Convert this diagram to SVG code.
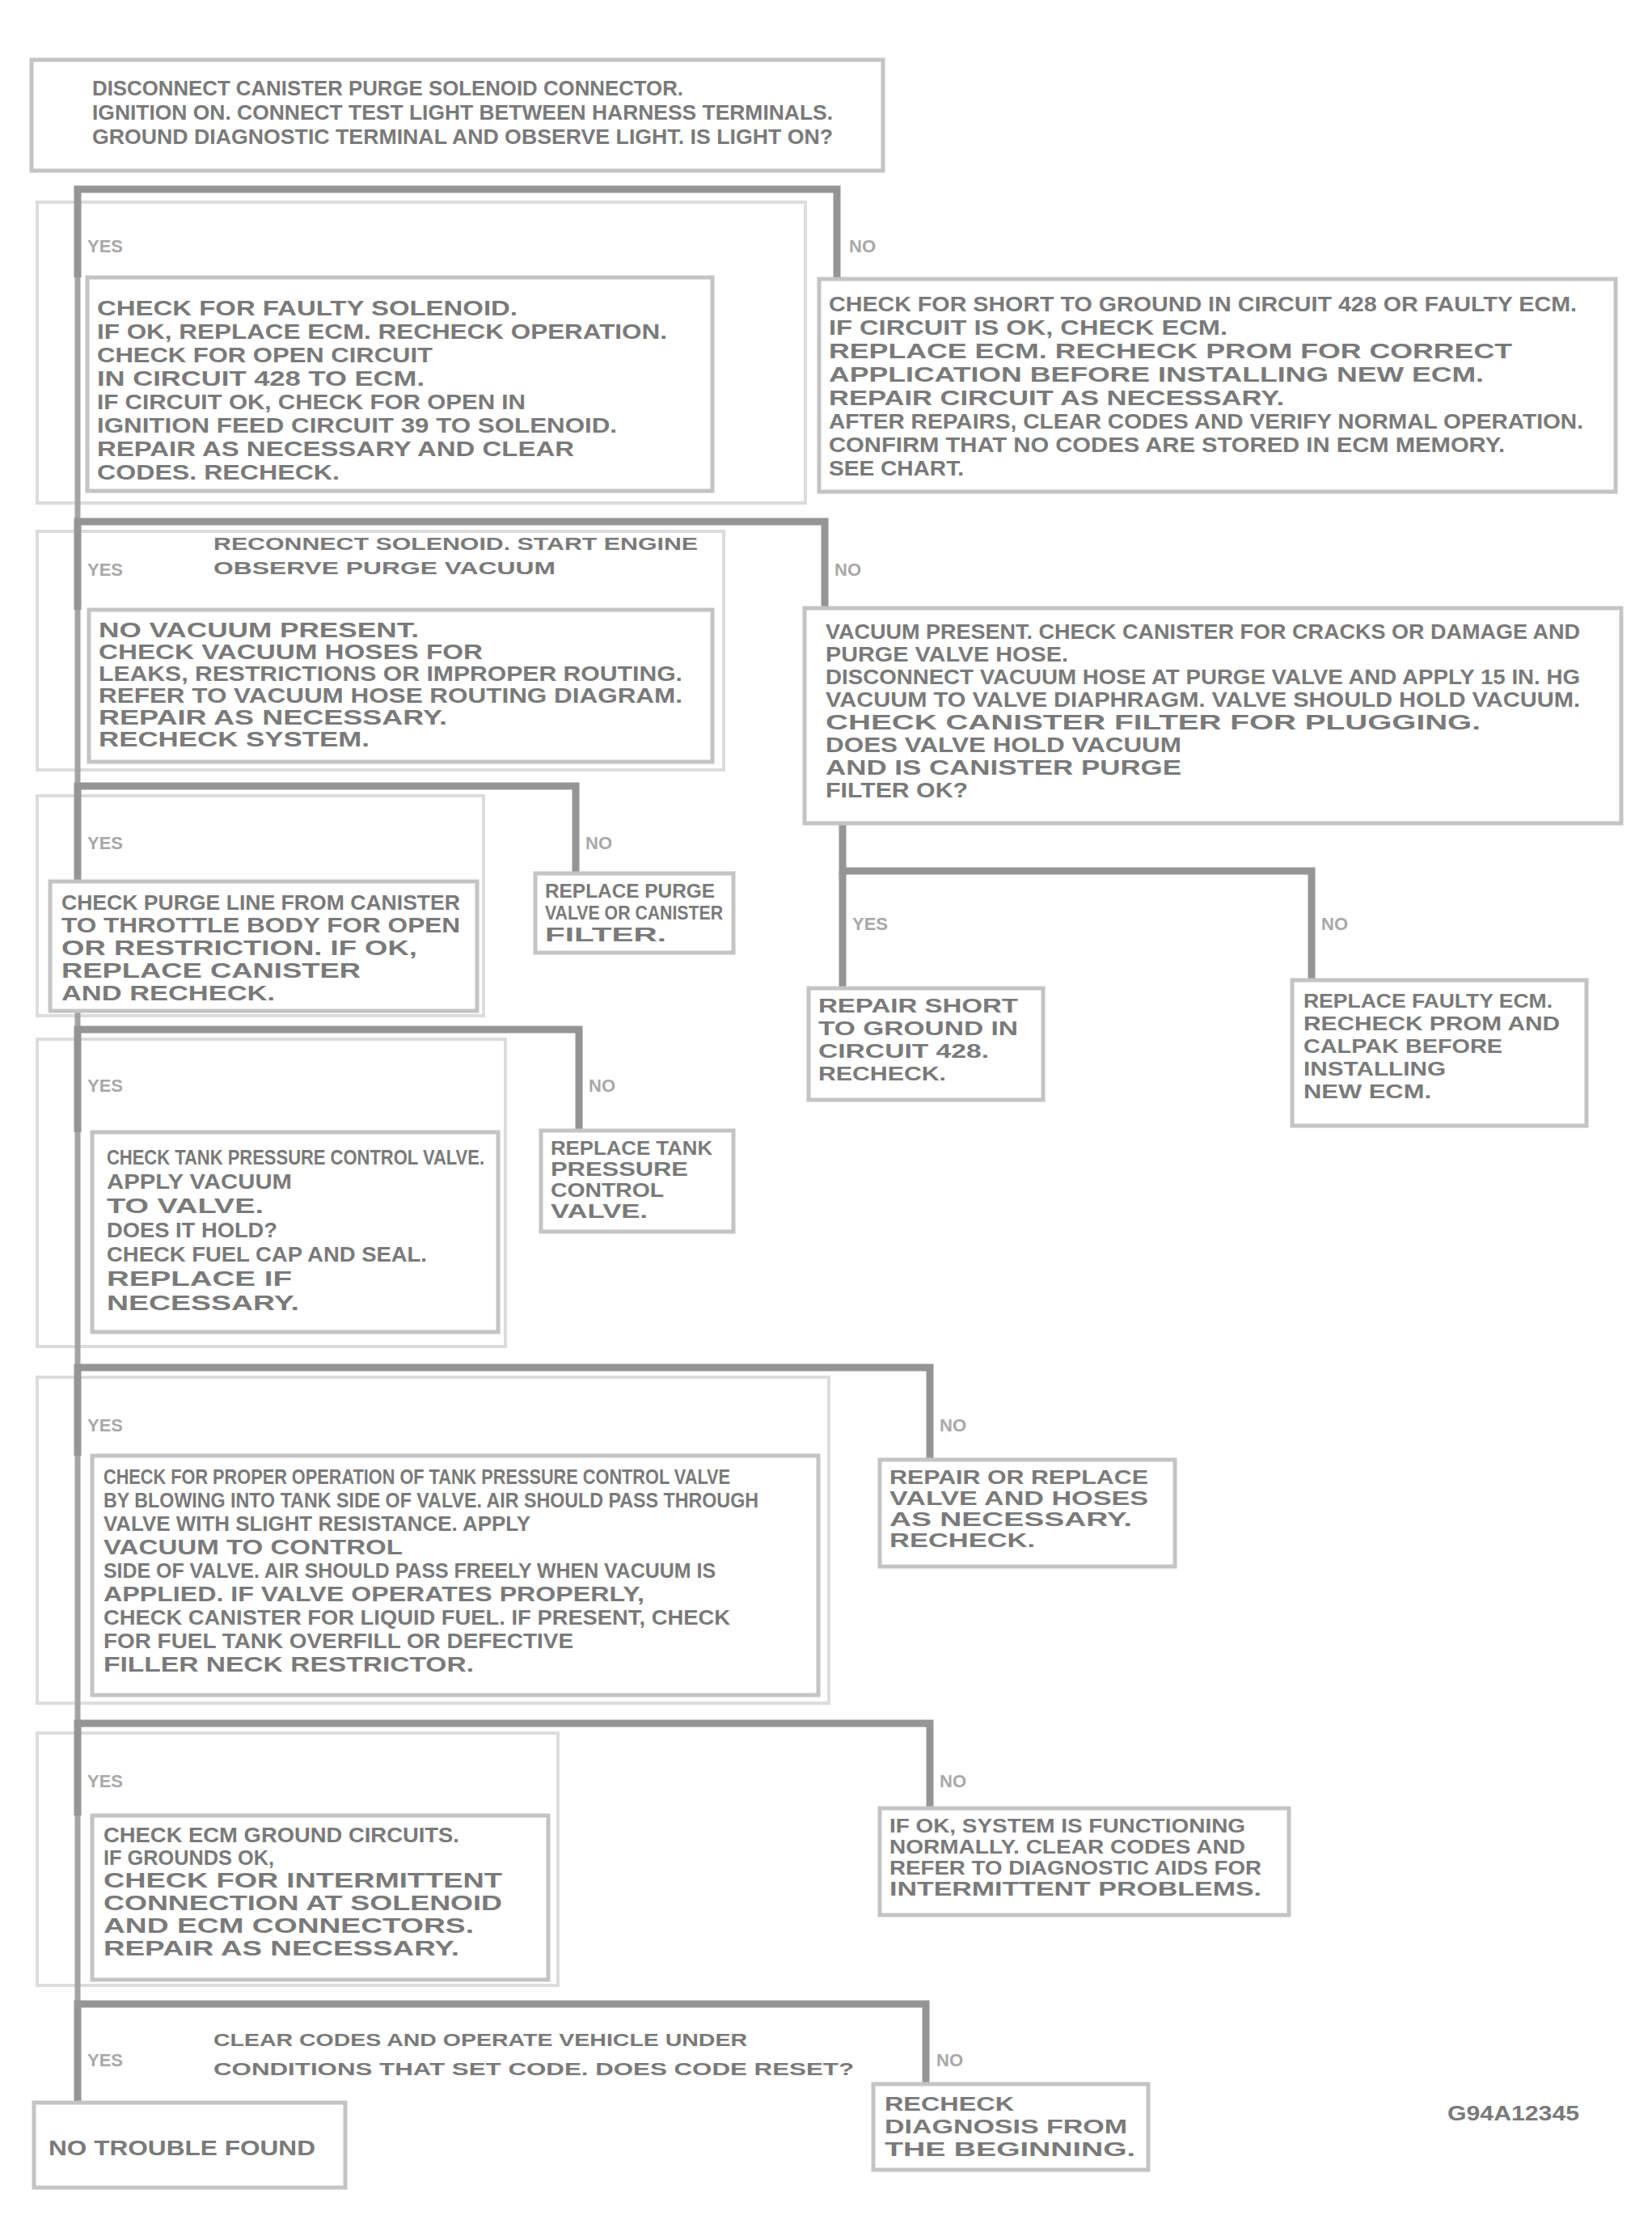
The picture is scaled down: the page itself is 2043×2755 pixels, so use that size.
<svg xmlns="http://www.w3.org/2000/svg" width="2043" height="2755" viewBox="0 0 2043 2755">
<style>
.bx{fill:#ffffff;stroke:#c4c4c4;stroke-width:5}
.fr{fill:none;stroke:#dcdcdc;stroke-width:4}
.cn{fill:none;stroke:#959595;stroke-width:9;stroke-linejoin:miter}
.sp{fill:none;stroke:#a3a3a3;stroke-width:7}
.t{font-family:"Liberation Sans",Arial,sans-serif;font-weight:bold;font-size:25px;fill:#7a7a7a}
.s{font-size:23px}
.q{font-size:22px}
.lb{font-family:"Liberation Sans",Arial,sans-serif;font-weight:bold;font-size:22px;fill:#a8a8a8}
</style>
<rect width="2043" height="2755" fill="#ffffff"/>

<g id="frames">
<rect class="fr" x="46" y="250" width="950" height="372"/>
<rect class="fr" x="46" y="657" width="849" height="295"/>
<rect class="fr" x="46" y="984" width="552" height="272"/>
<rect class="fr" x="46" y="1285" width="579" height="380"/>
<rect class="fr" x="46" y="1703" width="979" height="403"/>
<rect class="fr" x="46" y="2143" width="644" height="312"/>
</g>

<g id="connectors">
<path class="sp" d="M96 234 V2600"/>
<path class="cn" d="M96 343 V234 H1035 V343"/>
<path class="cn" d="M96 754 V645 H1020 V754"/>
<path class="cn" d="M96 1090 V972 H712 V1080"/>
<path class="cn" d="M1042 1018 V1077 H1622 V1212"/>
<path class="cn" d="M1042 1077 V1222"/>
<path class="cn" d="M96 1400 V1273 H716 V1398"/>
<path class="cn" d="M96 1800 V1691 H1150 V1805"/>
<path class="cn" d="M96 2245 V2131 H1150 V2236"/>
<path class="cn" d="M96 2600 V2478 H1145 V2577"/>
</g>

<g id="labels">
<text class="lb" x="108" y="312">YES</text>
<text class="lb" x="1050" y="312">NO</text>
<text class="lb" x="108" y="712">YES</text>
<text class="lb" x="1032" y="712">NO</text>
<text class="lb" x="108" y="1050">YES</text>
<text class="lb" x="724" y="1050">NO</text>
<text class="lb" x="1054" y="1150">YES</text>
<text class="lb" x="1634" y="1150">NO</text>
<text class="lb" x="108" y="1350">YES</text>
<text class="lb" x="728" y="1350">NO</text>
<text class="lb" x="108" y="1770">YES</text>
<text class="lb" x="1162" y="1770">NO</text>
<text class="lb" x="108" y="2210">YES</text>
<text class="lb" x="1162" y="2210">NO</text>
<text class="lb" x="108" y="2555">YES</text>
<text class="lb" x="1158" y="2555">NO</text>
</g>

<g id="n0">
<rect class="bx" x="39" y="74" width="1053" height="137"/>
<text class="t" x="114" y="118" textLength="731" lengthAdjust="spacingAndGlyphs">DISCONNECT CANISTER PURGE SOLENOID CONNECTOR.</text>
<text class="t" x="114" y="148" textLength="916" lengthAdjust="spacingAndGlyphs">IGNITION ON. CONNECT TEST LIGHT BETWEEN HARNESS TERMINALS.</text>
<text class="t" x="114" y="178" textLength="916" lengthAdjust="spacingAndGlyphs">GROUND DIAGNOSTIC TERMINAL AND OBSERVE LIGHT. IS LIGHT ON?</text>
</g>

<g id="n1">
<rect class="bx" x="108" y="343" width="773" height="264"/>
<text class="t" x="120" y="390" textLength="520" lengthAdjust="spacingAndGlyphs">CHECK FOR FAULTY SOLENOID.</text>
<text class="t" x="120" y="419" textLength="705" lengthAdjust="spacingAndGlyphs">IF OK, REPLACE ECM. RECHECK OPERATION.</text>
<text class="t" x="120" y="448" textLength="415" lengthAdjust="spacingAndGlyphs">CHECK FOR OPEN CIRCUIT</text>
<text class="t" x="120" y="477" textLength="405" lengthAdjust="spacingAndGlyphs">IN CIRCUIT 428 TO ECM.</text>
<text class="t" x="120" y="506" textLength="530" lengthAdjust="spacingAndGlyphs">IF CIRCUIT OK, CHECK FOR OPEN IN</text>
<text class="t" x="120" y="535" textLength="643" lengthAdjust="spacingAndGlyphs">IGNITION FEED CIRCUIT 39 TO SOLENOID.</text>
<text class="t" x="120" y="564" textLength="590" lengthAdjust="spacingAndGlyphs">REPAIR AS NECESSARY AND CLEAR</text>
<text class="t" x="120" y="593" textLength="300" lengthAdjust="spacingAndGlyphs">CODES. RECHECK.</text>
</g>

<g id="n2">
<rect class="bx" x="1013" y="345" width="985" height="263"/>
<text class="t" x="1025" y="385" textLength="925" lengthAdjust="spacingAndGlyphs">CHECK FOR SHORT TO GROUND IN CIRCUIT 428 OR FAULTY ECM.</text>
<text class="t" x="1025" y="414" textLength="493" lengthAdjust="spacingAndGlyphs">IF CIRCUIT IS OK, CHECK ECM.</text>
<text class="t" x="1025" y="443" textLength="845" lengthAdjust="spacingAndGlyphs">REPLACE ECM. RECHECK PROM FOR CORRECT</text>
<text class="t" x="1025" y="472" textLength="810" lengthAdjust="spacingAndGlyphs">APPLICATION BEFORE INSTALLING NEW ECM.</text>
<text class="t" x="1025" y="501" textLength="563" lengthAdjust="spacingAndGlyphs">REPAIR CIRCUIT AS NECESSARY.</text>
<text class="t" x="1025" y="530" textLength="933" lengthAdjust="spacingAndGlyphs">AFTER REPAIRS, CLEAR CODES AND VERIFY NORMAL OPERATION.</text>
<text class="t" x="1025" y="559" textLength="836" lengthAdjust="spacingAndGlyphs">CONFIRM THAT NO CODES ARE STORED IN ECM MEMORY.</text>
<text class="t" x="1025" y="588" textLength="167" lengthAdjust="spacingAndGlyphs">SEE CHART.</text>
</g>

<g id="q2">
<text class="t q" x="264" y="680" textLength="599" lengthAdjust="spacingAndGlyphs">RECONNECT SOLENOID. START ENGINE</text>
<text class="t q" x="264" y="710" textLength="423" lengthAdjust="spacingAndGlyphs">OBSERVE PURGE VACUUM</text>
</g>

<g id="n3">
<rect class="bx" x="110" y="754" width="771" height="188"/>
<text class="t" x="122" y="788" textLength="396" lengthAdjust="spacingAndGlyphs">NO VACUUM PRESENT.</text>
<text class="t" x="122" y="815" textLength="475" lengthAdjust="spacingAndGlyphs">CHECK VACUUM HOSES FOR</text>
<text class="t" x="122" y="842" textLength="722" lengthAdjust="spacingAndGlyphs">LEAKS, RESTRICTIONS OR IMPROPER ROUTING.</text>
<text class="t" x="122" y="869" textLength="722" lengthAdjust="spacingAndGlyphs">REFER TO VACUUM HOSE ROUTING DIAGRAM.</text>
<text class="t" x="122" y="896" textLength="431" lengthAdjust="spacingAndGlyphs">REPAIR AS NECESSARY.</text>
<text class="t" x="122" y="923" textLength="335" lengthAdjust="spacingAndGlyphs">RECHECK SYSTEM.</text>
</g>

<g id="n4">
<rect class="bx" x="995" y="752" width="1010" height="266"/>
<text class="t" x="1021" y="790" textLength="933" lengthAdjust="spacingAndGlyphs">VACUUM PRESENT. CHECK CANISTER FOR CRACKS OR DAMAGE AND</text>
<text class="t" x="1021" y="818" textLength="300" lengthAdjust="spacingAndGlyphs">PURGE VALVE HOSE.</text>
<text class="t" x="1021" y="846" textLength="933" lengthAdjust="spacingAndGlyphs">DISCONNECT VACUUM HOSE AT PURGE VALVE AND APPLY 15 IN. HG</text>
<text class="t" x="1021" y="874" textLength="933" lengthAdjust="spacingAndGlyphs">VACUUM TO VALVE DIAPHRAGM. VALVE SHOULD HOLD VACUUM.</text>
<text class="t" x="1021" y="902" textLength="810" lengthAdjust="spacingAndGlyphs">CHECK CANISTER FILTER FOR PLUGGING.</text>
<text class="t" x="1021" y="930" textLength="440" lengthAdjust="spacingAndGlyphs">DOES VALVE HOLD VACUUM</text>
<text class="t" x="1021" y="958" textLength="440" lengthAdjust="spacingAndGlyphs">AND IS CANISTER PURGE</text>
<text class="t" x="1021" y="986" textLength="176" lengthAdjust="spacingAndGlyphs">FILTER OK?</text>
</g>

<g id="n5">
<rect class="bx" x="62" y="1090" width="528" height="160"/>
<text class="t" x="76" y="1125" textLength="493" lengthAdjust="spacingAndGlyphs">CHECK PURGE LINE FROM CANISTER</text>
<text class="t" x="76" y="1153" textLength="493" lengthAdjust="spacingAndGlyphs">TO THROTTLE BODY FOR OPEN</text>
<text class="t" x="76" y="1181" textLength="440" lengthAdjust="spacingAndGlyphs">OR RESTRICTION. IF OK,</text>
<text class="t" x="76" y="1209" textLength="370" lengthAdjust="spacingAndGlyphs">REPLACE CANISTER</text>
<text class="t" x="76" y="1237" textLength="264" lengthAdjust="spacingAndGlyphs">AND RECHECK.</text>
</g>

<g id="n6">
<rect class="bx" x="662" y="1080" width="245" height="98"/>
<text class="t s" x="674" y="1110" textLength="210" lengthAdjust="spacingAndGlyphs">REPLACE PURGE</text>
<text class="t s" x="674" y="1137" textLength="220" lengthAdjust="spacingAndGlyphs">VALVE OR CANISTER</text>
<text class="t s" x="674" y="1164" textLength="150" lengthAdjust="spacingAndGlyphs">FILTER.</text>
</g>

<g id="n7">
<rect class="bx" x="1000" y="1222" width="290" height="138"/>
<text class="t s" x="1012" y="1252" textLength="247" lengthAdjust="spacingAndGlyphs">REPAIR SHORT</text>
<text class="t s" x="1012" y="1280" textLength="247" lengthAdjust="spacingAndGlyphs">TO GROUND IN</text>
<text class="t s" x="1012" y="1308" textLength="211" lengthAdjust="spacingAndGlyphs">CIRCUIT 428.</text>
<text class="t s" x="1012" y="1336" textLength="158" lengthAdjust="spacingAndGlyphs">RECHECK.</text>
</g>

<g id="n8">
<rect class="bx" x="1598" y="1212" width="364" height="180"/>
<text class="t s" x="1612" y="1246" textLength="308" lengthAdjust="spacingAndGlyphs">REPLACE FAULTY ECM.</text>
<text class="t s" x="1612" y="1274" textLength="317" lengthAdjust="spacingAndGlyphs">RECHECK PROM AND</text>
<text class="t s" x="1612" y="1302" textLength="246" lengthAdjust="spacingAndGlyphs">CALPAK BEFORE</text>
<text class="t s" x="1612" y="1330" textLength="176" lengthAdjust="spacingAndGlyphs">INSTALLING</text>
<text class="t s" x="1612" y="1358" textLength="158" lengthAdjust="spacingAndGlyphs">NEW ECM.</text>
</g>

<g id="n9">
<rect class="bx" x="114" y="1400" width="502" height="247"/>
<text class="t" x="132" y="1440" textLength="467" lengthAdjust="spacingAndGlyphs">CHECK TANK PRESSURE CONTROL VALVE.</text>
<text class="t" x="132" y="1470" textLength="229" lengthAdjust="spacingAndGlyphs">APPLY VACUUM</text>
<text class="t" x="132" y="1500" textLength="194" lengthAdjust="spacingAndGlyphs">TO VALVE.</text>
<text class="t" x="132" y="1530" textLength="211" lengthAdjust="spacingAndGlyphs">DOES IT HOLD?</text>
<text class="t" x="132" y="1560" textLength="396" lengthAdjust="spacingAndGlyphs">CHECK FUEL CAP AND SEAL.</text>
<text class="t" x="132" y="1590" textLength="229" lengthAdjust="spacingAndGlyphs">REPLACE IF</text>
<text class="t" x="132" y="1620" textLength="238" lengthAdjust="spacingAndGlyphs">NECESSARY.</text>
</g>

<g id="n10">
<rect class="bx" x="669" y="1398" width="238" height="125"/>
<text class="t s" x="681" y="1428" textLength="200" lengthAdjust="spacingAndGlyphs">REPLACE TANK</text>
<text class="t s" x="681" y="1454" textLength="170" lengthAdjust="spacingAndGlyphs">PRESSURE</text>
<text class="t s" x="681" y="1480" textLength="140" lengthAdjust="spacingAndGlyphs">CONTROL</text>
<text class="t s" x="681" y="1506" textLength="120" lengthAdjust="spacingAndGlyphs">VALVE.</text>
</g>

<g id="n11">
<rect class="bx" x="114" y="1800" width="898" height="296"/>
<text class="t" x="128" y="1835" textLength="775" lengthAdjust="spacingAndGlyphs">CHECK FOR PROPER OPERATION OF TANK PRESSURE CONTROL VALVE</text>
<text class="t" x="128" y="1864" textLength="810" lengthAdjust="spacingAndGlyphs">BY BLOWING INTO TANK SIDE OF VALVE. AIR SHOULD PASS THROUGH</text>
<text class="t" x="128" y="1893" textLength="528" lengthAdjust="spacingAndGlyphs">VALVE WITH SLIGHT RESISTANCE. APPLY</text>
<text class="t" x="128" y="1922" textLength="370" lengthAdjust="spacingAndGlyphs">VACUUM TO CONTROL</text>
<text class="t" x="128" y="1951" textLength="757" lengthAdjust="spacingAndGlyphs">SIDE OF VALVE. AIR SHOULD PASS FREELY WHEN VACUUM IS</text>
<text class="t" x="128" y="1980" textLength="669" lengthAdjust="spacingAndGlyphs">APPLIED. IF VALVE OPERATES PROPERLY,</text>
<text class="t" x="128" y="2009" textLength="775" lengthAdjust="spacingAndGlyphs">CHECK CANISTER FOR LIQUID FUEL. IF PRESENT, CHECK</text>
<text class="t" x="128" y="2038" textLength="581" lengthAdjust="spacingAndGlyphs">FOR FUEL TANK OVERFILL OR DEFECTIVE</text>
<text class="t" x="128" y="2067" textLength="458" lengthAdjust="spacingAndGlyphs">FILLER NECK RESTRICTOR.</text>
</g>

<g id="n12">
<rect class="bx" x="1088" y="1805" width="365" height="132"/>
<text class="t s" x="1100" y="1835" textLength="320" lengthAdjust="spacingAndGlyphs">REPAIR OR REPLACE</text>
<text class="t s" x="1100" y="1861" textLength="320" lengthAdjust="spacingAndGlyphs">VALVE AND HOSES</text>
<text class="t s" x="1100" y="1887" textLength="300" lengthAdjust="spacingAndGlyphs">AS NECESSARY.</text>
<text class="t s" x="1100" y="1913" textLength="180" lengthAdjust="spacingAndGlyphs">RECHECK.</text>
</g>

<g id="n13">
<rect class="bx" x="114" y="2245" width="564" height="203"/>
<text class="t" x="128" y="2278" textLength="440" lengthAdjust="spacingAndGlyphs">CHECK ECM GROUND CIRCUITS.</text>
<text class="t" x="128" y="2306" textLength="211" lengthAdjust="spacingAndGlyphs">IF GROUNDS OK,</text>
<text class="t" x="128" y="2334" textLength="493" lengthAdjust="spacingAndGlyphs">CHECK FOR INTERMITTENT</text>
<text class="t" x="128" y="2362" textLength="493" lengthAdjust="spacingAndGlyphs">CONNECTION AT SOLENOID</text>
<text class="t" x="128" y="2390" textLength="458" lengthAdjust="spacingAndGlyphs">AND ECM CONNECTORS.</text>
<text class="t" x="128" y="2418" textLength="440" lengthAdjust="spacingAndGlyphs">REPAIR AS NECESSARY.</text>
</g>

<g id="n14">
<rect class="bx" x="1088" y="2236" width="506" height="132"/>
<text class="t s" x="1100" y="2266" textLength="440" lengthAdjust="spacingAndGlyphs">IF OK, SYSTEM IS FUNCTIONING</text>
<text class="t s" x="1100" y="2292" textLength="440" lengthAdjust="spacingAndGlyphs">NORMALLY. CLEAR CODES AND</text>
<text class="t s" x="1100" y="2318" textLength="460" lengthAdjust="spacingAndGlyphs">REFER TO DIAGNOSTIC AIDS FOR</text>
<text class="t s" x="1100" y="2344" textLength="460" lengthAdjust="spacingAndGlyphs">INTERMITTENT PROBLEMS.</text>
</g>

<g id="q7">
<text class="t q" x="264" y="2530" textLength="660" lengthAdjust="spacingAndGlyphs">CLEAR CODES AND OPERATE VEHICLE UNDER</text>
<text class="t q" x="264" y="2566" textLength="792" lengthAdjust="spacingAndGlyphs">CONDITIONS THAT SET CODE. DOES CODE RESET?</text>
</g>

<g id="n15">
<rect class="bx" x="42" y="2600" width="385" height="105"/>
<text class="t" x="60" y="2665" textLength="330" lengthAdjust="spacingAndGlyphs">NO TROUBLE FOUND</text>
</g>

<g id="n16">
<rect class="bx" x="1080" y="2577" width="340" height="106"/>
<text class="t s" x="1094" y="2610" textLength="160" lengthAdjust="spacingAndGlyphs">RECHECK</text>
<text class="t s" x="1094" y="2638" textLength="300" lengthAdjust="spacingAndGlyphs">DIAGNOSIS FROM</text>
<text class="t s" x="1094" y="2666" textLength="310" lengthAdjust="spacingAndGlyphs">THE BEGINNING.</text>
</g>

<g id="code">
<text class="t" x="1790" y="2622" textLength="163" lengthAdjust="spacingAndGlyphs">G94A12345</text>
</g>
</svg>
